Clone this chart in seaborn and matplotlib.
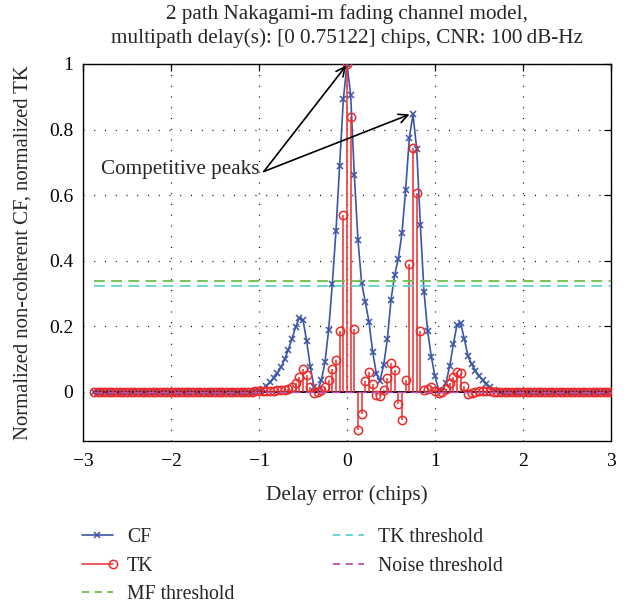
import matplotlib
matplotlib.use("Agg")
import numpy as np
import pandas as pd
import seaborn as sns
import matplotlib.pyplot as plt
from matplotlib.lines import Line2D
from matplotlib.legend_handler import HandlerBase

# ---------------- data ----------------
delay = [
    -2.875, -2.8333, -2.7917, -2.75, -2.7083, -2.6667, -2.625, -2.5833, -2.5417, -2.5,
    -2.4583, -2.4167, -2.375, -2.3333, -2.2917, -2.25, -2.2083, -2.1667, -2.125, -2.0833,
    -2.0417, -2.0, -1.9583, -1.9167, -1.875, -1.8333, -1.7917, -1.75, -1.7083, -1.6667,
    -1.625, -1.5833, -1.5417, -1.5, -1.4583, -1.4167, -1.375, -1.3333, -1.2917, -1.25,
    -1.2083, -1.1667, -1.125, -1.0833, -1.0417, -1.0, -0.9583, -0.9167, -0.875, -0.8333,
    -0.7917, -0.75, -0.7083, -0.6667, -0.625, -0.5833, -0.5417, -0.5, -0.4583, -0.4167,
    -0.375, -0.3333, -0.2917, -0.25, -0.2083, -0.1667, -0.125, -0.0833, -0.0417, 0.0,
    0.0417, 0.0833, 0.125, 0.1667, 0.2083, 0.25, 0.2917, 0.3333, 0.375, 0.4167,
    0.4583, 0.5, 0.5417, 0.5833, 0.625, 0.6667, 0.7083, 0.75, 0.7917, 0.8333,
    0.875, 0.9167, 0.9583, 1.0, 1.0417, 1.0833, 1.125, 1.1667, 1.2083, 1.25,
    1.2917, 1.3333, 1.375, 1.4167, 1.4583, 1.5, 1.5417, 1.5833, 1.625, 1.6667,
    1.7083, 1.75, 1.7917, 1.8333, 1.875, 1.9167, 1.9583, 2.0, 2.0417, 2.0833,
    2.125, 2.1667, 2.2083, 2.25, 2.2917, 2.3333, 2.375, 2.4167, 2.4583, 2.5,
    2.5417, 2.5833, 2.625, 2.6667, 2.7083, 2.75, 2.7917, 2.8333, 2.875, 2.9167,
    2.9583, 3.0,
]

cf_values = [
    0, 0, 0, 0, 0, 0, 0, 0, 0, 0,
    0, 0, 0, 0, 0, 0, 0, 0, 0, 0,
    0, 0, 0, 0, 0, 0, 0, 0, 0, 0,
    0, 0, 0, 0, 0, 0, 0, 0, 0, 0,
    0, 0, 0, 0, 0,
    0.003, 0.008, 0.017, 0.029, 0.042, 0.056, 0.075, 0.099, 0.129, 0.162,
    0.198, 0.226, 0.219, 0.155, 0.075, 0.015, 0.006, 0.035, 0.090, 0.190,
    0.330, 0.492, 0.690, 0.892, 1.000, 0.905, 0.660, 0.462, 0.331, 0.274,
    0.213, 0.122, 0.055, 0.034, 0.082, 0.160, 0.280, 0.357, 0.406, 0.485,
    0.617, 0.775, 0.846, 0.742, 0.510, 0.305, 0.185, 0.106, 0.047, 0.006,
    0.003, 0.028, 0.078, 0.145, 0.205, 0.209, 0.161, 0.109, 0.084, 0.065,
    0.049, 0.035, 0.023, 0.014, 0.007, 0.003,
    0, 0, 0, 0, 0, 0, 0, 0, 0, 0,
    0, 0, 0, 0, 0, 0, 0, 0, 0, 0,
    0, 0, 0, 0, 0, 0, 0, 0, 0, 0,
    0,
]

tk_values = [
    0, 0, 0, 0, 0, 0, 0, 0, 0, 0,
    0, 0, 0, 0, 0, 0, 0, 0, 0, 0,
    0, 0, 0, 0, 0, 0, 0, 0, 0, 0,
    0, 0, 0, 0, 0, 0, 0, 0, 0, 0,
    0, 0, 0, 0,
    0.001, 0.001, 0.002, 0.002, 0.003, 0.003, 0.004, 0.005, 0.006, 0.009,
    0.016, 0.028, 0.045, 0.071, 0.051, 0.015, -0.003, -0.002, 0.005, 0.015,
    0.036, 0.071, 0.098, 0.186, 0.540, 1.000, 0.838, 0.191, -0.116, -0.069,
    0.032, 0.061, 0.025, -0.009, -0.014, 0.007, 0.043, 0.089, 0.067, -0.036,
    -0.085, 0.037, 0.391, 0.744, 0.605, 0.184, 0.006, 0.010, 0.016, 0.002,
    -0.003, -0.002, 0.010, 0.028, 0.045, 0.060, 0.056, 0.018, -0.006, -0.005,
    -0.002, 0.001, 0.002, 0.002, 0.001,
    0, 0, 0, 0, 0, 0, 0, 0, 0, 0,
    0, 0, 0, 0, 0, 0, 0, 0, 0, 0,
    0, 0, 0, 0, 0, 0, 0, 0, 0, 0,
    0, 0, 0,
]

mf_threshold = 0.337
tk_threshold = 0.323
noise_threshold = 0.0

x_ticks = [-3, -2, -1, 0, 1, 2, 3]
x_tick_labels = ["\u22123", "\u22122", "\u22121", "0", "1", "2", "3"]
y_ticks = [0, 0.2, 0.4, 0.6, 0.8, 1]
y_tick_labels = ["0", "0.2", "0.4", "0.6", "0.8", "1"]
legend_labels = ["CF", "TK", "MF threshold", "TK threshold", "Noise threshold"]

# ---------------- styling ----------------
BLUE = "#3a55a8"
RED = "#ee2b2b"
GREEN = "#6cbf4a"
CYAN = "#5fd0d0"
PURPLE = "#b552b5"

sns.set_style("white")
plt.rcParams["font.family"] = ["Liberation Serif", "DejaVu Serif"]
plt.rcParams["axes.unicode_minus"] = True

df = pd.DataFrame({"delay": delay, "CF": cf_values, "TK": tk_values})

fig = plt.figure(figsize=(6.32, 6.07), dpi=100)
ax = fig.add_axes([0.1313, 0.2735, 0.8355, 0.6211])

sns.lineplot(data=df, x="delay", y="CF", ax=ax, color=BLUE, lw=1.2,
             marker="x", ms=4.5, mew=1.1, mec=BLUE, legend=False, zorder=3)

markerline, stemlines, baseline = ax.stem(df["delay"], df["TK"], basefmt="k-")
markerline.set(marker="o", markerfacecolor="none", markeredgecolor=RED,
               markersize=6, markeredgewidth=1.1, zorder=4)
stemlines.set(color=RED, linewidth=1.1, zorder=4)
baseline.set(color="black", linewidth=1.3, zorder=3.5)

xmin, xmax = df["delay"].min(), df["delay"].max()
dash = (0, (6, 3.5))
ax.hlines(mf_threshold, xmin, xmax, colors=GREEN, linestyles=dash, lw=1.3, zorder=5)
ax.hlines(tk_threshold, xmin, xmax, colors=CYAN, linestyles=dash, lw=1.3, zorder=5)
ax.hlines(noise_threshold, xmin, xmax, colors=PURPLE, linestyles=dash, lw=1.0, zorder=5)

ax.set_xlim(-3, 3)
ax.set_ylim(-0.15, 1.0)
ax.set_xticks(x_ticks)
ax.set_xticklabels(x_tick_labels)
ax.set_yticks(y_ticks)
ax.set_yticklabels(y_tick_labels)
ax.grid(True, color="black", linestyle=(0, (0.8, 7.8)), lw=0.9)
ax.set_axisbelow(True)
ax.tick_params(direction="in", top=True, right=True, length=5, width=0.9,
               labelsize=14, colors="black")
ax.tick_params(axis="y", pad=7)
ax.tick_params(axis="x", pad=9)
for s in ax.spines.values():
    s.set_color("black")
    s.set_linewidth(1.0)

ax.set_xlabel("Delay error (chips)", fontsize=15.3, labelpad=11)
ax.set_ylabel("Normalized non-coherent CF, normalized TK", fontsize=14.9, labelpad=12)
ax.set_title("2 path Nakagami-m fading channel model,\n"
             "multipath delay(s): [0 0.75122] chips, CNR: 100\u2009dB-Hz",
             fontsize=15.2, pad=15, linespacing=1.3)

# annotation: text and two arrows from a common tail point
ax.text(-0.995, 0.678, "Competitive peaks", ha="right", va="center",
        fontsize=15.2, zorder=6)
arrow_tail = (-0.945, 0.672)
for head in [(-0.01, 0.995), (0.71, 0.846)]:
    ax.annotate("", xy=head, xytext=arrow_tail,
                arrowprops=dict(arrowstyle="->", lw=1.2, color="black",
                                shrinkA=0, shrinkB=0, mutation_scale=16),
                zorder=6)


class HandlerStem(HandlerBase):
    def create_artists(self, legend, orig_handle, xdescent, ydescent, width,
                       height, fontsize, trans):
        y = height / 2 - ydescent
        x0 = -xdescent
        line = Line2D([x0, x0 + width], [y, y], color=RED, lw=1.1)
        mk = Line2D([x0 + width], [y], marker="o", markerfacecolor="none",
                    markeredgecolor=RED, markersize=6, markeredgewidth=1.1,
                    linestyle="none")
        line.set_transform(trans)
        mk.set_transform(trans)
        return [line, mk]


class StemProxy:
    pass


h_cf = Line2D([], [], color=BLUE, lw=1.2, marker="x", ms=4.5, mew=1.1)
h_tk = StemProxy()
h_mf = Line2D([], [], color=GREEN, lw=1.3, linestyle=(0, (4, 3)))
h_tkt = Line2D([], [], color=CYAN, lw=1.3, linestyle=(0, (4, 3)))
h_no = Line2D([], [], color=PURPLE, lw=1.3, linestyle=(0, (4, 3)))

fig.legend([h_cf, h_tk, h_mf, h_tkt, h_no], legend_labels,
           handler_map={StemProxy: HandlerStem()},
           loc="upper left", bbox_to_anchor=(0.129, 0.130), ncol=2,
           frameon=False, fontsize=14.2, handlelength=1.6, handletextpad=0.7,
           columnspacing=5.0, labelspacing=0.48, borderpad=0, borderaxespad=0,
           numpoints=1)

fig.savefig("out.png", dpi=100)
